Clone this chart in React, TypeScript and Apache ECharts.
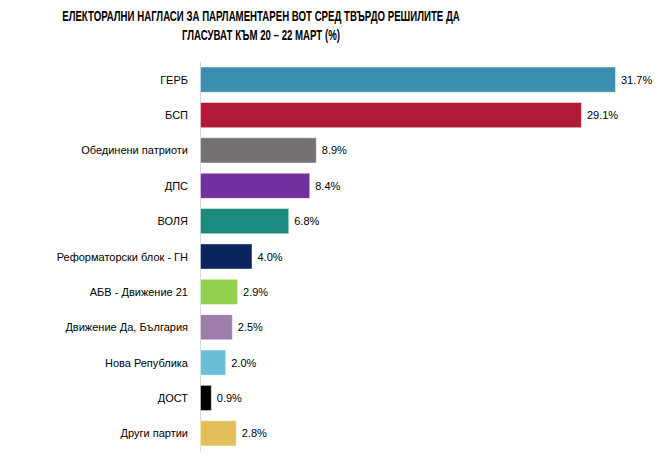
import { useEffect, useRef } from 'react';
import * as echarts from 'echarts';

const titleLines = [
  'ЕЛЕКТОРАЛНИ НАГЛАСИ ЗА ПАРЛАМЕНТАРЕН ВОТ СРЕД ТВЪРДО РЕШИЛИТЕ ДА',
  'ГЛАСУВАТ КЪМ 20 – 22 МАРТ (%)',
];

const parties = [
  'ГЕРБ',
  'БСП',
  'Обединени патриоти',
  'ДПС',
  'ВОЛЯ',
  'Реформаторски блок - ГН',
  'АБВ - Движение 21',
  'Движение Да, България',
  'Нова Република',
  'ДОСТ',
  'Други партии',
];

const shares = [31.7, 29.1, 8.9, 8.4, 6.8, 4.0, 2.9, 2.5, 2.0, 0.9, 2.8];

const barColors = [
  '#3c8fae',
  '#b01a37',
  '#767171',
  '#7030a0',
  '#1b8b80',
  '#0a2460',
  '#92d050',
  '#9e7cac',
  '#6bbfd9',
  '#000000',
  '#e2bf58',
];

const sans = '"Liberation Sans", Arial, sans-serif';

export default function App() {
  const chartRef = useRef<HTMLDivElement>(null);

  useEffect(() => {
    if (!chartRef.current) return;
    const chart = echarts.init(chartRef.current, null, { renderer: 'svg' });

    // title drawn as graphic text so it can be squeezed like the condensed original
    const titleTexts = titleLines.map((line, i) => ({
      type: 'text',
      x: 253,
      y: 8 + i * 19,
      scaleX: 0.69,
      style: {
        text: line,
        font: `bold 14px ${sans}`,
        fill: '#000000',
        textAlign: 'center',
        textVerticalAlign: 'middle',
        align: 'center',
        verticalAlign: 'middle',
      },
    }));

    chart.setOption({
      animation: false,
      backgroundColor: '#ffffff',
      graphic: { elements: titleTexts },
      grid: { left: 192, right: 36, top: 54, bottom: 1 },
      xAxis: {
        type: 'value',
        min: 0,
        max: 'dataMax',
        show: false,
      },
      yAxis: {
        type: 'category',
        data: parties,
        inverse: true,
        axisLine: { show: true, lineStyle: { color: '#d9d9d9', width: 1 } },
        axisTick: { show: false },
        axisLabel: {
          margin: 12,
          fontFamily: sans,
          fontSize: 11,
          color: '#000000',
        },
      },
      series: [
        {
          type: 'bar',
          data: shares.map((v, i) => ({
            value: v,
            itemStyle: { color: barColors[i] },
          })),
          barWidth: '74%',
          itemStyle: { borderColor: 'rgba(255,255,255,0.45)', borderWidth: 1 },
          label: {
            show: true,
            position: 'right',
            distance: 5,
            fontFamily: sans,
            fontSize: 11,
            color: '#000000',
            formatter: (p: any) => `${Number(p.value).toFixed(1)}%`,
          },
        },
      ],
    });

    return () => {
      chart.dispose();
    };
  }, []);

  return <div ref={chartRef} style={{ width: 644, height: 444 }} />;
}
